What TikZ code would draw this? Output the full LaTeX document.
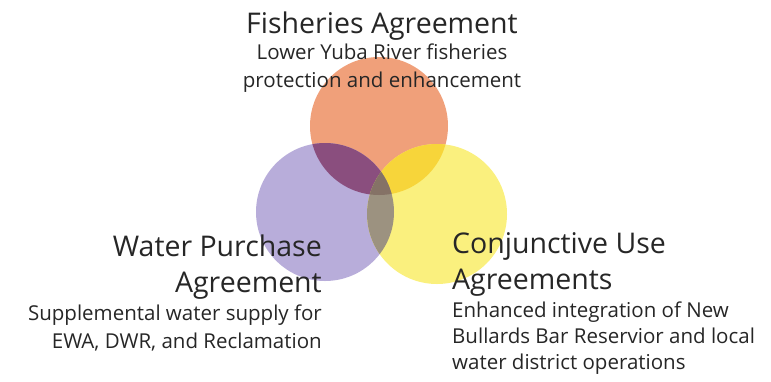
\documentclass[tikz,border=0pt]{standalone}
\usepackage{fontspec}
\setmainfont{Open Sans}
\definecolor{fishorange}{HTML}{F0A07A}
\definecolor{buypurple}{HTML}{B8ADDA}
\definecolor{useyellow}{HTML}{FAF07E}
\definecolor{fishbuy}{HTML}{8A4E7E}
\definecolor{fishuse}{HTML}{F7D53A}
\definecolor{buyuse}{HTML}{9C9280}
\definecolor{allthree}{HTML}{857266}
\begin{document}
\begin{tikzpicture}[x=1pt,y=-1pt,
	title/.style={inner sep=0pt, text=black!85, font=\fontsize{28.5}{35.5}\selectfont},
	blurb/.style={inner sep=0pt, text=black!85, font=\fontsize{20.5}{27.5}\selectfont}]
		\useasboundingbox (0,0) rectangle (771,381);
		% circle centres
		\coordinate (o) at (379,126);
		\coordinate (p) at (325,212);
		\coordinate (y) at (437,214);

		\fill [fishorange] (o) circle (69);
		\fill [buypurple] (p) circle (69);
		\fill [useyellow] (y) circle (70);
		\begin{scope}
			\clip (o) circle (69);
			\fill [fishbuy] (p) circle (69);
			\fill [fishuse] (y) circle (70);
		\end{scope}
		\begin{scope}
			\clip (p) circle (69);
			\fill [buyuse] (y) circle (70);
			\clip (y) circle (70);
			\fill [allthree] (o) circle (69);
		\end{scope}

		% base = baseline of the last line
		\node [title, anchor=base] (fish) at (382,33) {Fisheries Agreement};
		\node [blurb, anchor=base, align=center] (fishtxt) at (382,87)
			{Lower Yuba River fisheries\\protection and enhancement};

		\node [title, anchor=base east, align=right] (buy) at (322,292)
			{Water Purchase\\Agreement};
		\node [blurb, anchor=base east, align=right] (buytxt) at (322,348)
			{Supplemental water supply for\\EWA, DWR, and Reclamation};

		\node [title, anchor=base west, align=left] (use) at (452,289)
			{Conjunctive Use\\Agreements};
		\node [blurb, anchor=base west, align=left, font=\fontsize{20.5}{26}\selectfont] (usetxt) at (452,369)
			{Enhanced integration of New\\Bullards Bar Reservior and local\\water district operations};
	\end{tikzpicture}
\end{document}
